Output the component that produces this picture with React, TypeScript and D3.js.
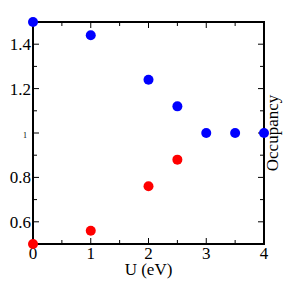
import React, { useEffect, useRef } from "react";
import * as d3 from "d3";

const uValues = [0, 1, 2, 2.5, 3, 3.5, 4];
const upOccupancy = [1.5, 1.44, 1.24, 1.12, 1.0, 1.0, 1.0];
const uValuesDown = [0, 1, 2, 2.5];
const downOccupancy = [0.5, 0.56, 0.76, 0.88];
const xTicks = [0, 1, 2, 3, 4];
const yTicks = [0.6, 0.8, 1, 1.2, 1.4];
const yTickLabels = ["0.6", "0.8", "1", "1.2", "1.4"];

const App = () => {
  const ref = useRef<SVGSVGElement>(null);

  useEffect(() => {
    const width = 293;
    const height = 285;
    const margin = { top: 22, right: 29, bottom: 41, left: 33 };
    const font = "Liberation Serif, Times New Roman, serif";

    const svg = d3.select(ref.current)
      .attr("width", width)
      .attr("height", height);
    svg.selectAll("*").remove();

    const x = d3.scaleLinear().domain([0, 4]).range([margin.left, width - margin.right]);
    const y = d3.scaleLinear().domain([0.5, 1.5]).range([height - margin.bottom, margin.top]);

    const x0 = x(0), x1 = x(4), y0 = y(0.5), y1 = y(1.5);
    const g = svg.append("g");

    // ticks point inward on all four sides
    const xMinor = d3.range(0.5, 4, 1);
    const yMinor = d3.range(0.5, 1.5001, 0.1).filter(v => !yTicks.some(t => Math.abs(t - v) < 1e-6));

    const tick = (ax: number, ay: number, bx: number, by: number) =>
      g.append("line").attr("x1", ax).attr("y1", ay).attr("x2", bx).attr("y2", by)
        .attr("stroke", "#000").attr("stroke-width", 1);

    xTicks.forEach(v => { tick(x(v), y0, x(v), y0 - 6); tick(x(v), y1, x(v), y1 + 6); });
    xMinor.forEach(v => { tick(x(v), y0, x(v), y0 - 4); tick(x(v), y1, x(v), y1 + 4); });
    yTicks.forEach(v => { tick(x0, y(v), x0 + 6, y(v)); tick(x1, y(v), x1 - 6, y(v)); });
    yMinor.forEach(v => { tick(x0, y(v), x0 + 4, y(v)); tick(x1, y(v), x1 - 4, y(v)); });

    // frame
    g.append("rect")
      .attr("x", x0).attr("y", y1)
      .attr("width", x1 - x0).attr("height", y0 - y1)
      .attr("fill", "none").attr("stroke", "#000").attr("stroke-width", 2);

    // tick labels
    g.selectAll(".xl").data(xTicks).enter().append("text")
      .attr("x", d => x(d)).attr("y", y0 + 15)
      .attr("text-anchor", "middle")
      .style("font-family", font).style("font-size", "17px")
      .text(d => String(d));

    g.selectAll(".yl").data(yTicks).enter().append("text")
      .attr("x", (d, i) => (yTickLabels[i] === "1" ? x0 - 6 : x0 - 2))
      .attr("y", (d, i) => y(d) + (yTickLabels[i] === "1" ? 5 : 6))
      .attr("text-anchor", "end")
      .style("font-family", font)
      .style("font-size", (d, i) => (yTickLabels[i] === "1" ? "8px" : "17px"))
      .text((d, i) => yTickLabels[i]);

    // axis titles
    g.append("text")
      .attr("x", (x0 + x1) / 2).attr("y", 275)
      .attr("text-anchor", "middle")
      .style("font-family", font).style("font-size", "17px")
      .text("U (eV)");

    g.append("text")
      .attr("transform", `translate(${x1 + 14}, ${(y0 + y1) / 2}) rotate(-90)`)
      .attr("text-anchor", "middle")
      .style("font-family", font).style("font-size", "17px")
      .text("Occupancy");

    // points
    g.selectAll(".up").data(uValues).enter().append("circle")
      .attr("cx", d => x(d)).attr("cy", (d, i) => y(upOccupancy[i]))
      .attr("r", 5).attr("fill", "#0000ff");

    g.selectAll(".down").data(uValuesDown).enter().append("circle")
      .attr("cx", d => x(d)).attr("cy", (d, i) => y(downOccupancy[i]))
      .attr("r", 5).attr("fill", "#ff0000");
  }, []);

  return <svg ref={ref} style={{ position: "absolute", left: 0, top: 0 }}></svg>;
};

export default App;
